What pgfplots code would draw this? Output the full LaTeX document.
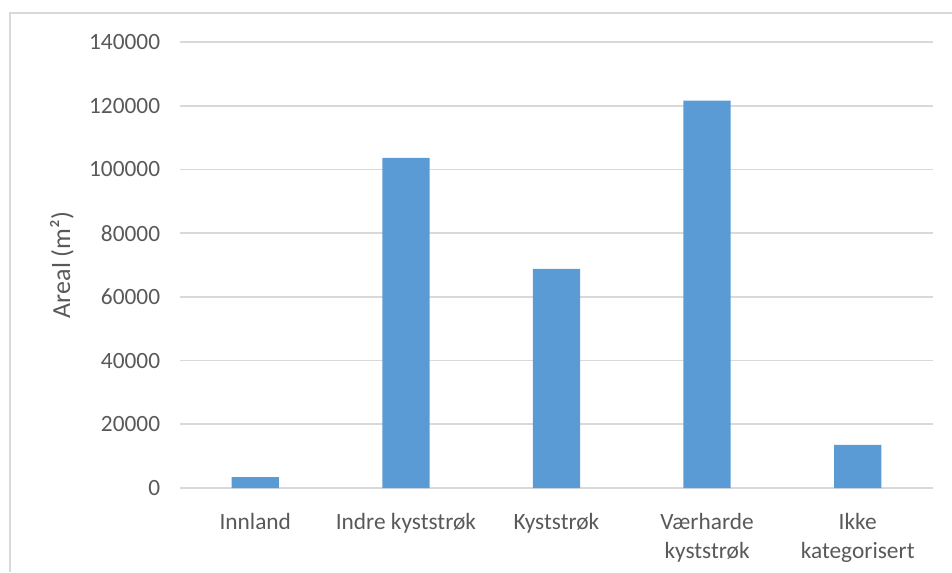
\documentclass[border=0pt]{standalone}
\usepackage{fontspec}
\setmainfont{Carlito}
\usepackage{pgfplots}
\pgfplotsset{compat=1.18}
\definecolor{barblue}{HTML}{5B9BD5}
\definecolor{gridgray}{HTML}{D9D9D9}
\definecolor{textgray}{HTML}{595959}

\begin{document}
\begin{tikzpicture}
\useasboundingbox (-135pt,-63pt) rectangle (579pt,366pt);
% chart frame
\draw[gridgray, line width=1.2pt] (-127.5pt,-63pt) -- (-127.5pt,356.25pt) -- (579pt,356.25pt);
\begin{axis}[
  scale only axis,
  width=564.75pt, height=334.5pt,
  ymin=0, ymax=140000,
  ytick={0,20000,...,140000},
  xmin=-0.5, xmax=4.5,
  xtick={0,...,4},
  xticklabels={Innland, Indre kyststrøk, Kyststrøk, {Værharde\\kyststrøk}, {Ikke\\kategorisert}},
  axis line style={draw=none},
  tick style={draw=none},
  ymajorgrids,
  major grid style={gridgray, line width=1.2pt},
  scaled y ticks=false,
  /pgf/number format/.cd, fixed, 1000 sep={}, assume math mode=true,
  /pgfplots/.cd,
  yticklabel style={font=\fontsize{17.5}{21}\selectfont, text=textgray, xshift=-11.4pt},
  xticklabel style={font=\fontsize{17.5}{21.75}\selectfont, text=textgray,
    anchor=north, align=center, inner sep=0pt, yshift=-14.4pt},
  ylabel={Areal (m²)},
  ylabel style={at={(axis description cs:-0.1567,0.5)}, anchor=center,
    font=\fontsize{19.5}{23}\selectfont, text=textgray},
  ybar, bar width=0.314,
]
\addplot[fill=barblue, draw=none] coordinates {
  (0,3400) (1,103600) (2,68800) (3,121600) (4,13500)
};
\end{axis}
\end{tikzpicture}
\end{document}
